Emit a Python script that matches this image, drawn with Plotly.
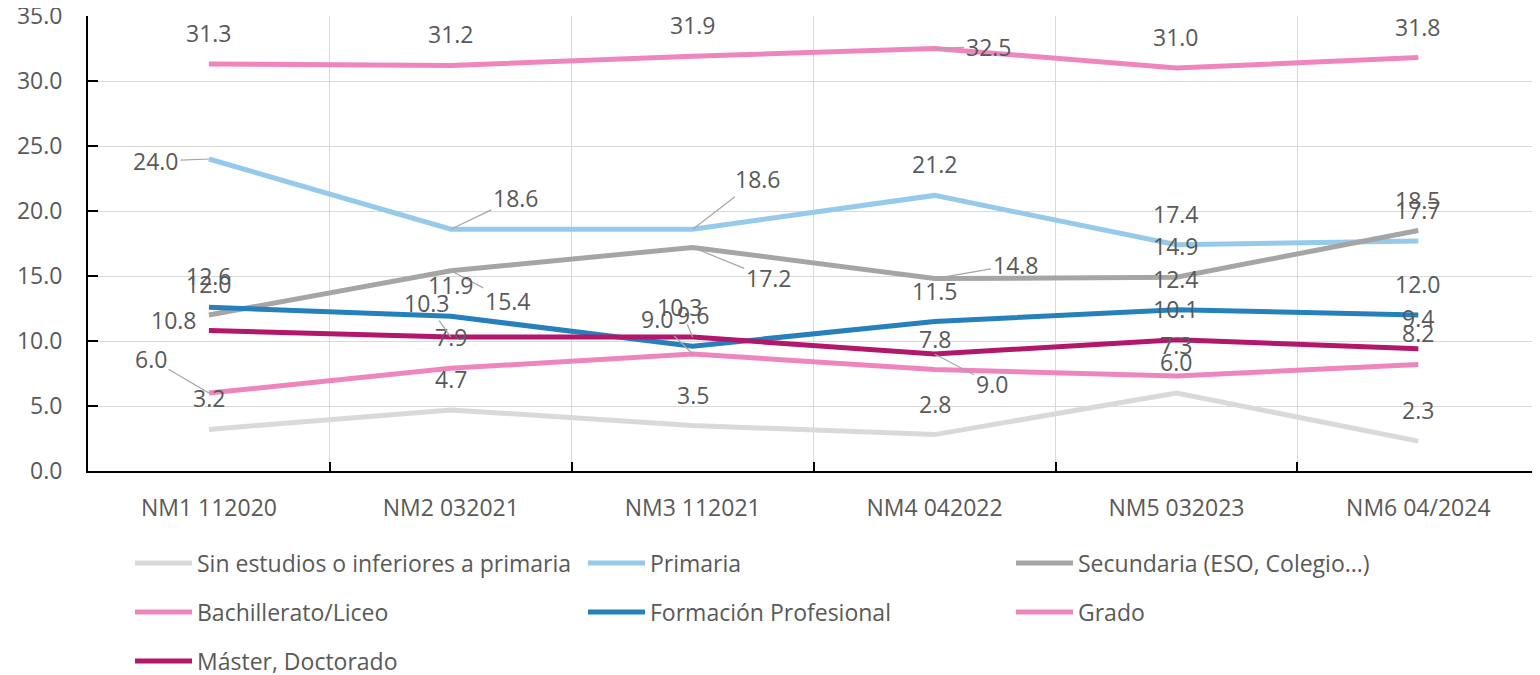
import plotly.graph_objects as go

categories = ["NM1 112020", "NM2 032021", "NM3 112021", "NM4 042022", "NM5 032023", "NM6 04/2024"]

sin_estudios = [3.2, 4.7, 3.5, 2.8, 6.0, 2.3]
primaria = [24.0, 18.6, 18.6, 21.2, 17.4, 17.7]
secundaria = [12.0, 15.4, 17.2, 14.8, 14.9, 18.5]
bachillerato = [6.0, 7.9, 9.0, 7.8, 7.3, 8.2]
formacion_prof = [12.6, 11.9, 9.6, 11.5, 12.4, 12.0]
grado = [31.3, 31.2, 31.9, 32.5, 31.0, 31.8]
master = [10.8, 10.3, 10.3, 9.0, 10.1, 9.4]

series_names = [
    "Sin estudios o inferiores a primaria",
    "Primaria",
    "Secundaria (ESO, Colegio...)",
    "Bachillerato/Liceo",
    "Formación Profesional",
    "Grado",
    "Máster, Doctorado",
]
series_values = [sin_estudios, primaria, secundaria, bachillerato, formacion_prof, grado, master]

# ---- styling ----
colors = ["#d9d9d9", "#95caeb", "#a5a5a5", "#ef85be", "#2580bc", "#ef85be", "#b2176c"]
legend_ids = ["legend", "legend", "legend", "legend2", "legend2", "legend2", "legend3"]
legend_widths = [381, 356, 374, 381, 356, 374, 374]
FONT = "'Open Sans', sans-serif"
TXT = "#595959"
FS = 23

# page has an 8px body margin; figure geometry compensates for it
OFF = 8
W, H = 1540 - 2 * OFF, 700
ML, MT = 88 - OFF, 16 - OFF
BOTTOM = 471 - OFF
PLOT_W = W - ML
PLOT_H = BOTTOM - MT
MB = H - BOTTOM

# label placement (pixel offsets from point, leader flag); default above
DEFAULT = (0, -31, False)
label_style = {
    (1, 0): (-53, 2, True),
    (1, 1): (65, -31, True),
    (1, 2): (65, -50, True),
    (2, 1): (57, 30, True),
    (2, 2): (76, 31, True),
    (2, 3): (81, -14, True),
    (3, 0): (-58, -34, True),
    (3, 2): (-36, -35, True),
    (5, 3): (54, -2, True),
    (6, 0): (-35, -11, False),
    (6, 1): (-24, -34, True),
    (6, 2): (-13, -30, True),
    (6, 3): (57, 30, True),
}

fig = go.Figure()
for i, (name, vals) in enumerate(zip(series_names, series_values)):
    fig.add_trace(go.Scatter(
        x=categories, y=vals, name=name, mode="lines",
        line=dict(color=colors[i], width=5),
        legend=legend_ids[i], legendwidth=legend_widths[i],
    ))

annotations = []
for i, vals in enumerate(series_values):
    for j, v in enumerate(vals):
        dx, dy, leader = label_style.get((i, j), DEFAULT)
        a = dict(x=categories[j], y=v, xref="x", yref="y", text=f"{v:.1f}",
                 font=dict(family=FONT, size=FS, color=TXT))
        if leader:
            a.update(showarrow=True, ax=dx, ay=dy, arrowhead=0, arrowwidth=1.2,
                     arrowcolor="#a6a6a6", standoff=0, startstandoff=0)
        else:
            a.update(showarrow=False, xshift=dx, yshift=-dy)
        annotations.append(a)

leg_common = dict(orientation="h", xanchor="left", yanchor="middle",
                  font=dict(family=FONT, size=FS, color=TXT),
                  entrywidth=374, entrywidthmode="pixels", bgcolor="rgba(0,0,0,0)",
                  itemwidth=57, tracegroupgap=0)

def leg_x(px):
    return (px - OFF - ML) / PLOT_W

def leg_y(py):
    return -(py - 471) / PLOT_H

fig.update_layout(
    width=W, height=H,
    margin=dict(l=ML, r=0, t=MT, b=MB),
    paper_bgcolor="white", plot_bgcolor="white",
    font=dict(family=FONT, size=FS, color=TXT),
    annotations=annotations,
    legend=dict(x=leg_x(130), y=leg_y(563), **leg_common),
    legend2=dict(x=leg_x(130), y=leg_y(612), **leg_common),
    legend3=dict(x=leg_x(130), y=leg_y(661), **leg_common),
    xaxis=dict(
        type="category", range=[-0.5, 5.47], tickson="boundaries",
        showgrid=True, gridcolor="#d9d9d9", gridwidth=1.3,
        showline=True, linecolor="black", linewidth=2,
        ticks="inside", ticklen=9, tickcolor="black", tickwidth=2,
        tickfont=dict(family=FONT, size=FS, color=TXT),
        ticklabelstandoff=15, zeroline=False, automargin=False,
        ticklabeloverflow="allow",
    ),
    yaxis=dict(
        range=[0, 35], dtick=5, tickformat=".1f",
        showgrid=True, gridcolor="#d9d9d9", gridwidth=1.3,
        showline=True, linecolor="black", linewidth=2,
        ticks="inside", ticklen=10, tickcolor="black", tickwidth=2,
        tickfont=dict(family=FONT, size=FS, color=TXT),
        ticklabelstandoff=19, zeroline=False, automargin=False,
        ticklabeloverflow="allow",
    ),
)

fig.write_html("out.html")
